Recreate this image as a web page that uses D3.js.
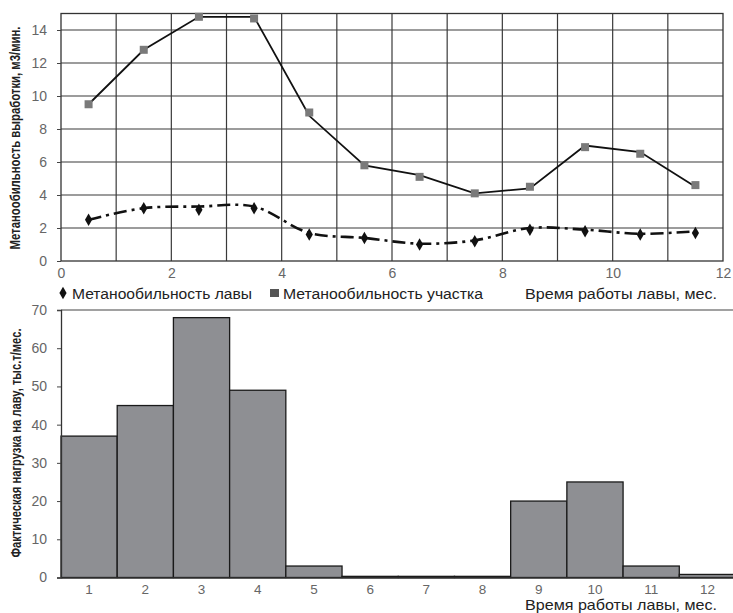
<!DOCTYPE html>
<html><head><meta charset="utf-8">
<script src="https://cdn.jsdelivr.net/npm/d3@7"></script>
<style>body{margin:0;background:#fff}svg{display:block}</style>
</head><body>
<svg id="c" width="733" height="613"></svg>
<script>
// ---- data ----
const months = [0.5,1.5,2.5,3.5,4.5,5.5,6.5,7.5,8.5,9.5,10.5,11.5];
const siteValues = [9.5,12.8,14.8,14.7,9.0,5.8,5.1,4.1,4.5,6.9,6.5,4.6];      // Метанообильность участка
const siteTrend  = [9.5,12.8,14.8,14.8,8.8,5.8,5.2,4.1,4.4,7.0,6.6,4.5];
const faceValues = [2.5,3.2,3.1,3.2,1.6,1.4,1.0,1.2,1.9,1.8,1.6,1.7];      // Метанообильность лавы
const faceTrend  = [2.5,3.2,3.3,3.3,1.7,1.4,1.05,1.25,2.0,1.9,1.65,1.8];
const topXTicks = [0,2,4,6,8,10,12];
const topYTicks = [0,2,4,6,8,10,12,14];
const barCats = ["1","2","3","4","5","6","7","8","9","10","11","12"];
const barValues = [37,45,68,49,3,0.3,0.3,0.3,20,25,3,0.8];
const barYTicks = [0,10,20,30,40,50,60,70];

const svg = d3.select("#c");
const tickFont = "'Liberation Sans', Arial, sans-serif";
const titleFont = "'Liberation Sans Narrow', 'Liberation Sans', sans-serif";

// ---- top chart ----
const x1 = d3.scaleLinear().domain([0,12]).range([61,723]);
const y1 = d3.scaleLinear().domain([0,15]).range([261,13.5]);
const g1 = svg.append("g");
g1.selectAll(".vg").data(d3.range(1,12)).join("line")
  .attr("x1",d=>x1(d)).attr("x2",d=>x1(d)).attr("y1",y1(0)).attr("y2",y1(15))
  .attr("stroke","#3a3a3a").attr("stroke-width",1.2);
g1.selectAll(".hg").data(topYTicks.filter(d=>d>0)).join("line")
  .attr("x1",x1(0)).attr("x2",x1(12)).attr("y1",d=>y1(d)).attr("y2",d=>y1(d))
  .attr("stroke","#3a3a3a").attr("stroke-width",1.2);
g1.append("rect").attr("x",x1(0)).attr("y",y1(15)).attr("width",x1(12)-x1(0)).attr("height",y1(0)-y1(15))
  .attr("fill","none").attr("stroke","#333").attr("stroke-width",1.3);
const ax1 = g1.append("g").attr("transform",`translate(0,${y1(0)})`)
  .call(d3.axisBottom(x1).tickValues(topXTicks).tickSize(0).tickPadding(7));
const ay1 = g1.append("g").attr("transform",`translate(${x1(0)},0)`)
  .call(d3.axisLeft(y1).tickValues(topYTicks).tickSize(4).tickPadding(10));
[ax1,ay1].forEach(a=>{a.select(".domain").remove();
  a.selectAll("text").attr("font-family",tickFont).attr("font-size",14).attr("fill","#666");
  a.selectAll("line").attr("stroke","#444");});
// site line
g1.append("path").datum(months.map((m,i)=>[m,siteTrend[i]]))
  .attr("d",d3.line().x(d=>x1(d[0])).y(d=>y1(d[1])))
  .attr("fill","none").attr("stroke","#111").attr("stroke-width",1.8);
g1.selectAll(".sq").data(months.map((m,i)=>[m,siteValues[i]])).join("rect")
  .attr("x",d=>x1(d[0])-4).attr("y",d=>y1(d[1])-4).attr("width",8).attr("height",8)
  .attr("fill","#7a7a7a");
// face line
g1.append("path").datum(months.map((m,i)=>[m,faceTrend[i]]))
  .attr("d",d3.line().x(d=>x1(d[0])).y(d=>y1(d[1])).curve(d3.curveCatmullRom))
  .attr("fill","none").attr("stroke","#111").attr("stroke-width",2.6)
  .attr("stroke-dasharray","13,5,3,5");
g1.selectAll(".dm").data(months.map((m,i)=>[m,faceValues[i]])).join("path")
  .attr("transform",d=>`translate(${x1(d[0])},${y1(d[1])})`)
  .attr("d",d3.symbol(d3.symbolDiamond,45)).attr("fill","#111");
// y title
svg.append("text").attr("transform",`translate(20,138) rotate(-90) scale(1,1.12)`)
  .attr("text-anchor","middle").attr("font-family",titleFont).attr("font-weight","bold")
  .attr("font-size",12.5).attr("fill","#222")
  .attr("textLength",223).attr("lengthAdjust","spacingAndGlyphs")
  .text("Метанообильность выработки, м3/мин.");
// legend
const lg = svg.append("g");
lg.append("path").attr("transform","translate(63,293)").attr("d",d3.symbol(d3.symbolDiamond,45)).attr("fill","#111");
lg.append("text").attr("x",72).attr("y",298.5).attr("font-family",tickFont).attr("font-size",15.5).attr("fill","#222")
  .attr("textLength",180).attr("lengthAdjust","spacingAndGlyphs").text("Метанообильность лавы");
lg.append("rect").attr("x",270).attr("y",289).attr("width",9).attr("height",8).attr("fill","#555");
lg.append("text").attr("x",283).attr("y",298.5).attr("font-family",tickFont).attr("font-size",15.5).attr("fill","#222")
  .attr("textLength",200).attr("lengthAdjust","spacingAndGlyphs").text("Метанообильность участка");
svg.append("text").attr("x",525).attr("y",298.5).attr("font-family",tickFont).attr("font-size",15.5).attr("fill","#222")
  .attr("textLength",192).attr("lengthAdjust","spacingAndGlyphs").text("Время работы лавы, мес.");

// ---- bottom chart ----
const x2 = d3.scaleBand().domain(barCats).range([61,735.5]).padding(0);
const y2 = d3.scaleLinear().domain([0,70]).range([577.5,310]);
const g2 = svg.append("g");
g2.append("line").attr("x1",61).attr("x2",733).attr("y1",y2(70)).attr("y2",y2(70)).attr("stroke","#444").attr("stroke-width",1.2);
g2.selectAll(".bar").data(barCats.map((c,i)=>[c,barValues[i]])).join("rect")
  .attr("x",d=>x2(d[0])).attr("y",d=>y2(d[1])).attr("width",x2.bandwidth()).attr("height",d=>y2(0)-y2(d[1]))
  .attr("fill","#8e8f93").attr("stroke","#1a1a1a").attr("stroke-width",1.3);
const ax2 = g2.append("g").attr("transform",`translate(0,${y2(0)})`)
  .call(d3.axisBottom(x2).tickSize(0).tickPadding(7));
ax2.select(".domain").attr("stroke","#333").attr("stroke-width",1.3);
const ay2 = g2.append("g").attr("transform",`translate(61,0)`)
  .call(d3.axisLeft(y2).tickValues(barYTicks).tickSize(4).tickPadding(10));
ay2.select(".domain").attr("stroke","#333").attr("stroke-width",1.3);
ay2.selectAll("text").attr("font-size",14);
ax2.selectAll("text").attr("font-size",13.5);
[ax2,ay2].forEach(a=>{
  a.selectAll("text").attr("font-family",tickFont).attr("fill","#666");
  a.selectAll("line").attr("stroke","#444");});
svg.append("text").attr("transform",`translate(21,443) rotate(-90)`)
  .attr("text-anchor","middle").attr("font-family",titleFont).attr("font-weight","bold")
  .attr("font-size",15).attr("fill","#222")
  .attr("textLength",229).attr("lengthAdjust","spacingAndGlyphs")
  .text("Фактическая нагрузка на лаву, тыс.т/мес.");
svg.append("text").attr("x",525).attr("y",609.5).attr("font-family",tickFont).attr("font-size",14.5).attr("fill","#222")
  .attr("textLength",192).attr("lengthAdjust","spacingAndGlyphs").text("Время работы лавы, мес.");
</script>
</body></html>
